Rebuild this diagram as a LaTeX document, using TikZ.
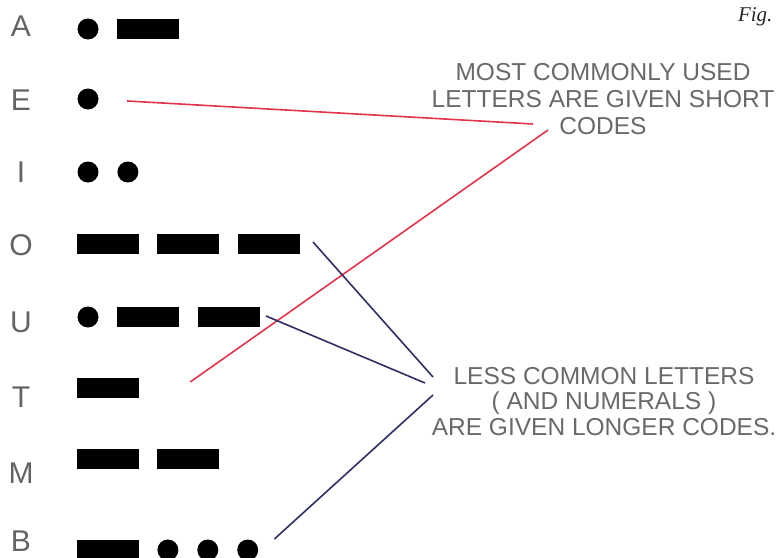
\documentclass[tikz,border=0pt]{standalone}
\usepackage{fontspec}
\setmainfont{Liberation Sans}
\newfontfamily\figfont{Liberation Serif}
\usetikzlibrary{positioning}
\definecolor{LetterGray}{RGB}{100,100,100}
\definecolor{NoteGray}{RGB}{105,105,105}
\definecolor{ShortRed}{RGB}{226,52,72}
\definecolor{LongBlue}{RGB}{46,46,100}

\begin{document}
\begin{tikzpicture}[x=1pt, y=-1pt, node distance=18.5pt,
    letter/.style={text=LetterGray, font=\fontsize{30}{30}\selectfont, inner sep=0pt},
    dit/.style={circle, fill=black, minimum size=21pt, inner sep=0pt},
    dah/.style={rectangle, fill=black, minimum width=62pt, minimum height=20pt, inner sep=0pt},
    note/.style={text=NoteGray, align=center, inner sep=0pt},
    shortline/.style={draw=ShortRed, line width=1.6pt},
    longline/.style={draw=LongBlue, line width=1.6pt}
]
\useasboundingbox (0,0) rectangle (779,557);

% Caption
\node[anchor=base east, text=black!85, font=\figfont\itshape\fontsize{21}{21}\selectfont] (fig) at (776,21) {Fig.};

% A
\node[letter] (A) at (21,26) {A};
\node[dit] (A1) at (88,29) {};
\node[dah, right=of A1] (A2) {};

% E
\node[letter] (E) at (21,100) {E};
\node[dit] (E1) at (88,99) {};

% I
\node[letter] (I) at (21,172) {I};
\node[dit] (I1) at (88,172) {};
\node[dit, right=of I1] (I2) {};

% O
\node[letter] (O) at (21,245) {O};
\node[dah] (O1) at (107.5,244) {};
\node[dah, right=of O1] (O2) {};
\node[dah, right=of O2] (O3) {};

% U
\node[letter] (U) at (21,322) {U};
\node[dit] (U1) at (88,317) {};
\node[dah, right=of U1] (U2) {};
\node[dah, right=of U2] (U3) {};

% T
\node[letter] (T) at (21,397) {T};
\node[dah] (T1) at (107.5,388) {};

% M
\node[letter] (M) at (21,473) {M};
\node[dah] (M1) at (107.5,459) {};
\node[dah, right=of M1] (M2) {};

% B
\node[letter] (B) at (21,541) {B};
\node[dah] (B1) at (107.5,550) {};
\node[dit, right=of B1] (B2) {};
\node[dit, right=of B2] (B3) {};
\node[dit, right=of B3] (B4) {};

% Notes
\node[note, anchor=north, font=\fontsize{24.5}{27}\selectfont] (short) at (603,63)
    {MOST COMMONLY USED\\LETTERS ARE GIVEN SHORT\\CODES};
\node[note, anchor=north, font=\fontsize{24.5}{25.5}\selectfont] (long) at (604,367)
    {LESS COMMON LETTERS\\( AND NUMERALS )\\ARE GIVEN LONGER CODES.};

\coordinate (shortE) at (533,124);
\coordinate (shortT) at (548,130);
\coordinate (longO) at (433,377);
\coordinate (longU) at (425,383);
\coordinate (longB) at (433,395);

% Short codes
\draw[shortline] ([xshift=28.5pt, yshift=-2pt]E1.east) -- (shortE);
\draw[shortline] ([xshift=51.5pt, yshift=6pt]T1.east) -- (shortT);

% Longer codes
\draw[longline] ([xshift=12.5pt, yshift=2pt]O3.east) -- (longO);
\draw[longline] ([xshift=5.5pt, yshift=1pt]U3.east) -- (longU);
\draw[longline] ([xshift=16pt, yshift=11pt]B4.east) -- (longB);

\end{tikzpicture}
\end{document}
